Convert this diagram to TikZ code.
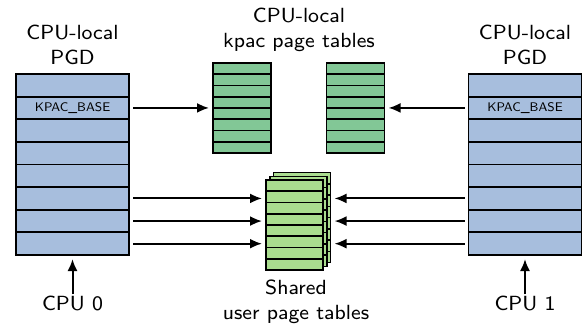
\documentclass[tikz,border=0pt]{standalone}
\usepackage{fontspec}
\usetikzlibrary{arrows.meta}

\newfontfamily\labelsans{lmsans8-regular.otf}

\definecolor{pgdblue}{RGB}{167,190,221}
\definecolor{kpacgreen}{RGB}{130,199,150}
\definecolor{usergreen}{RGB}{170,221,143}

\tikzset{
  pgdrow/.style={draw, line width=1.8pt, fill=pgdblue, minimum width=113pt, minimum height=22.625pt, inner sep=0pt, outer sep=0pt},
  kpacrow/.style={draw, line width=1.6pt, fill=kpacgreen, minimum width=58pt, minimum height=11.25pt, inner sep=0pt, outer sep=0pt},
  userrow/.style={draw, line width=1.6pt, fill=usergreen, minimum width=57pt, minimum height=11.25pt, inner sep=0pt, outer sep=0pt},
  title/.style={align=center, font=\labelsans\fontsize{20.5}{25}\selectfont, inner sep=1pt},
  entry/.style={font=\labelsans\fontsize{12.5}{14}\selectfont},
  ptr/.style={line width=2pt, -{Latex[length=12pt,width=10pt]}, shorten <=4pt, shorten >=4pt},
}

\begin{document}
\begin{tikzpicture}[x=1pt, y=-1pt]
	\useasboundingbox (0, 0) rectangle (584, 329);
	% per-CPU PGDs
	\foreach \i in {1,...,8} {
		\node[pgdrow] (L\i) at (72.5, {74+22.625*(\i-0.5)}) {};
		\node[pgdrow] (R\i) at (525, {74+22.625*(\i-0.5)}) {};
	}
	\node[entry] (lbase) at (L2) {KPAC\_BASE};
	\node[entry] (rbase) at (R2) {KPAC\_BASE};
	% kpac page tables
	\foreach \i in {1,...,8} {
		\node[kpacrow] (KA\i) at (242, {63+11.25*(\i-0.5)}) {};
		\node[kpacrow] (KB\i) at (355.5, {63+11.25*(\i-0.5)}) {};
	}
	% shared user page tables, back to front
	\foreach \i in {1,...,8} {
		\node[userrow] (UC\i) at (302, {172.6+11.25*(\i-0.5)}) {};
	}
	\foreach \i in {1,...,8} {
		\node[userrow] (UB\i) at (298.2, {176.3+11.25*(\i-0.5)}) {};
	}
	\foreach \i in {1,...,8} {
		\node[userrow] (UA\i) at (294.5, {180+11.25*(\i-0.5)}) {};
	}
	% titles
	\node[title] (tleft) at (72.5, 45) {CPU-local\\PGD};
	\node[title] (tright) at (525, 45) {CPU-local\\PGD};
	\node[title] (tkpac) at (299, 30) {CPU-local\\kpac page tables};
	\node[title] (tuser) at (296, 302) {Shared\\user page tables};
	\node[title] (cpu0) at (72.5, 303) {CPU 0};
	\node[title] (cpu1) at (525, 303) {CPU 1};
	% pointers
	\draw[ptr] (L2.east) -- (L2.east -| KA1.west);
	\draw[ptr] (R2.west) -- (R2.west -| KB1.east);
	\draw[ptr] (L6.east) -- (L6.east -| UA1.west);
	\draw[ptr] (L7.east) -- (L7.east -| UA1.west);
	\draw[ptr] (L8.east) -- (L8.east -| UA1.west);
	\draw[ptr] (R6.west) -- (R6.west -| UC1.east);
	\draw[ptr] (R7.west) -- (R7.west -| UC1.east);
	\draw[ptr] (R8.west) -- (R8.west -| UC1.east);
	\draw[ptr, shorten <=0pt] (cpu0.north) -- (L8.south);
	\draw[ptr, shorten <=0pt] (cpu1.north) -- (R8.south);
\end{tikzpicture}
\end{document}
